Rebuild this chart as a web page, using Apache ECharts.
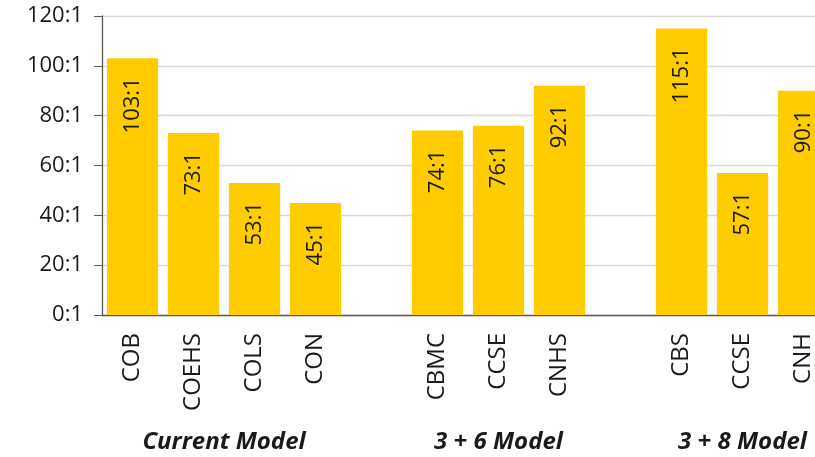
<!DOCTYPE html>
<html>
<head>
<meta charset="utf-8">
<script src="https://cdn.jsdelivr.net/npm/echarts@6/dist/echarts.min.js"></script>
<style>html,body{margin:0;padding:0;background:#fff}#c{width:815px;height:457px}</style>
</head>
<body>
<div id="c"></div>
<script>
var categories = ['COB', 'COEHS', 'COLS', 'CON', '', 'CBMC', 'CCSE', 'CNHS', '', 'CBS', 'CCSE', 'CNH'];
var ratios = [103, 73, 53, 45, '-', 74, 76, 92, '-', 115, 57, 90];
var groups = [
  { name: 'Current Model', from: 0, to: 3 },
  { name: '3 + 6 Model', from: 5, to: 7 },
  { name: '3 + 8 Model', from: 9, to: 11 }
];
var yTicks = { min: 0, max: 120, interval: 20 };

var FONT = '"Open Sans", "Noto Sans", sans-serif';
var chart = echarts.init(document.getElementById('c'), null, { renderer: 'canvas' });
chart.setOption({
  animation: false,
  backgroundColor: '#ffffff',
  grid: { left: 102, width: 732, top: 16, bottom: 142, containLabel: false, outerBoundsMode: 'none' },
  xAxis: {
    type: 'category',
    data: categories,
    axisLine: { show: true, lineStyle: { color: '#595959', width: 1.3 } },
    axisTick: { show: false },
    axisLabel: { rotate: 90, margin: 18, color: '#1a1a1a', fontSize: 24, fontFamily: FONT, interval: 0 }
  },
  yAxis: {
    type: 'value',
    min: yTicks.min, max: yTicks.max, interval: yTicks.interval,
    axisLine: { show: true, lineStyle: { color: '#595959', width: 1.3 } },
    axisTick: { show: true, length: 8, lineStyle: { color: '#595959' } },
    axisLabel: { formatter: '{value}:1', margin: 19, color: '#1a1a1a', fontSize: 22, fontFamily: FONT },
    splitLine: { show: true, lineStyle: { color: '#d9d9d9', width: 1.3 } }
  },
  series: [{
    type: 'bar',
    data: ratios,
    barCategoryGap: '16%',
    itemStyle: { color: '#FFCC00' },
    label: {
      show: true,
      position: 'insideTop',
      distance: 19,
      rotate: 90,
      align: 'right',
      verticalAlign: 'middle',
      formatter: '{c}:1',
      color: '#1a1a1a',
      fontSize: 22,
      fontFamily: FONT
    }
  }]
});

var graphics = groups.map(function (g) {
  var a = chart.convertToPixel({ xAxisIndex: 0 }, g.from);
  var b = chart.convertToPixel({ xAxisIndex: 0 }, g.to);
  return {
    type: 'text',
    x: (a + b) / 2,
    y: 442,
    style: {
      text: g.name,
      fill: '#1a1a1a',
      font: 'italic bold 24px ' + FONT,
      textAlign: 'center',
      textVerticalAlign: 'middle'
    }
  };
});
chart.setOption({ graphic: graphics });
</script>
</body>
</html>
